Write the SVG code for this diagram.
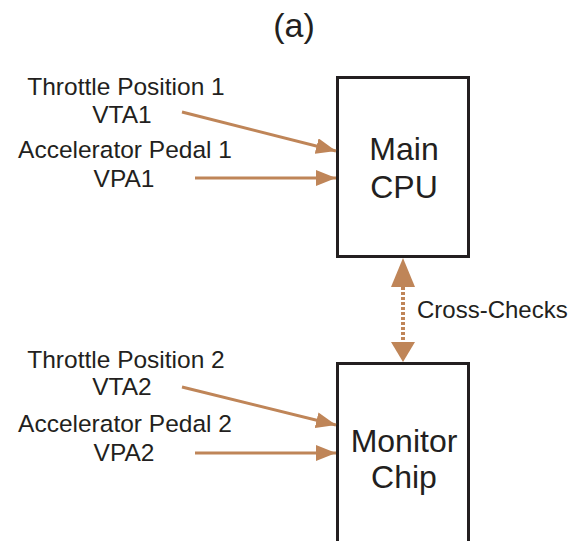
<svg xmlns="http://www.w3.org/2000/svg" width="575" height="541" viewBox="0 0 575 541">
<defs>
<style>
.t{font-family:"Liberation Sans",Arial,sans-serif;fill:#231F20;text-anchor:middle}
.lbl{font-size:24.5px}
.box{fill:#fff;stroke:#231F20;stroke-width:3}
.big{font-size:32px}
.c{stroke:#BF8558;stroke-width:3;fill:none}
</style>
<marker id="ah" viewBox="0 0 20 16" refX="20" refY="8" markerWidth="20" markerHeight="16" markerUnits="userSpaceOnUse" orient="auto">
<path d="M0,0 L20,8 L0,16 Z" fill="#BF8558"/>
</marker>
</defs>
<rect width="575" height="541" fill="#fff"/>
<text class="t" x="294" y="37" font-size="34">(a)</text>
<g id="main-cpu">
<rect class="box" x="337.5" y="77.5" width="131" height="179"/>
<text class="t big" x="404" y="160">Main</text>
<text class="t big" x="404" y="198">CPU</text>
</g>
<g id="monitor-chip">
<rect class="box" x="337.5" y="363.5" width="131" height="180"/>
<text class="t big" x="404" y="452">Monitor</text>
<text class="t big" x="404" y="488">Chip</text>
</g>
<g id="inputs">
<text class="t lbl" x="126" y="95">Throttle Position 1</text>
<text class="t lbl" x="122" y="123">VTA1</text>
<text class="t lbl" x="125" y="158">Accelerator Pedal 1</text>
<text class="t lbl" x="124" y="187">VPA1</text>
<text class="t lbl" x="126" y="368">Throttle Position 2</text>
<text class="t lbl" x="122" y="395">VTA2</text>
<text class="t lbl" x="125" y="432">Accelerator Pedal 2</text>
<text class="t lbl" x="124" y="461">VPA2</text>
</g>
<g id="connectors">
<line class="c" x1="182" y1="112" x2="336" y2="151" marker-end="url(#ah)"/>
<line class="c" x1="195" y1="178" x2="336" y2="178" marker-end="url(#ah)"/>
<line class="c" x1="182" y1="387" x2="336" y2="425" marker-end="url(#ah)"/>
<line class="c" x1="195" y1="453" x2="336" y2="453" marker-end="url(#ah)"/>
<line x1="403" y1="287" x2="403" y2="342" stroke="#BF8558" stroke-width="4" stroke-dasharray="3,2"/>
<path d="M403,258 L415,287 L391,287 Z" fill="#BF8558"/>
<path d="M403,362 L415,342 L391,342 Z" fill="#BF8558"/>
<text x="417" y="318" font-family="Liberation Sans,Arial,sans-serif" font-size="24" fill="#231F20">Cross-Checks</text>
</g>
</svg>
